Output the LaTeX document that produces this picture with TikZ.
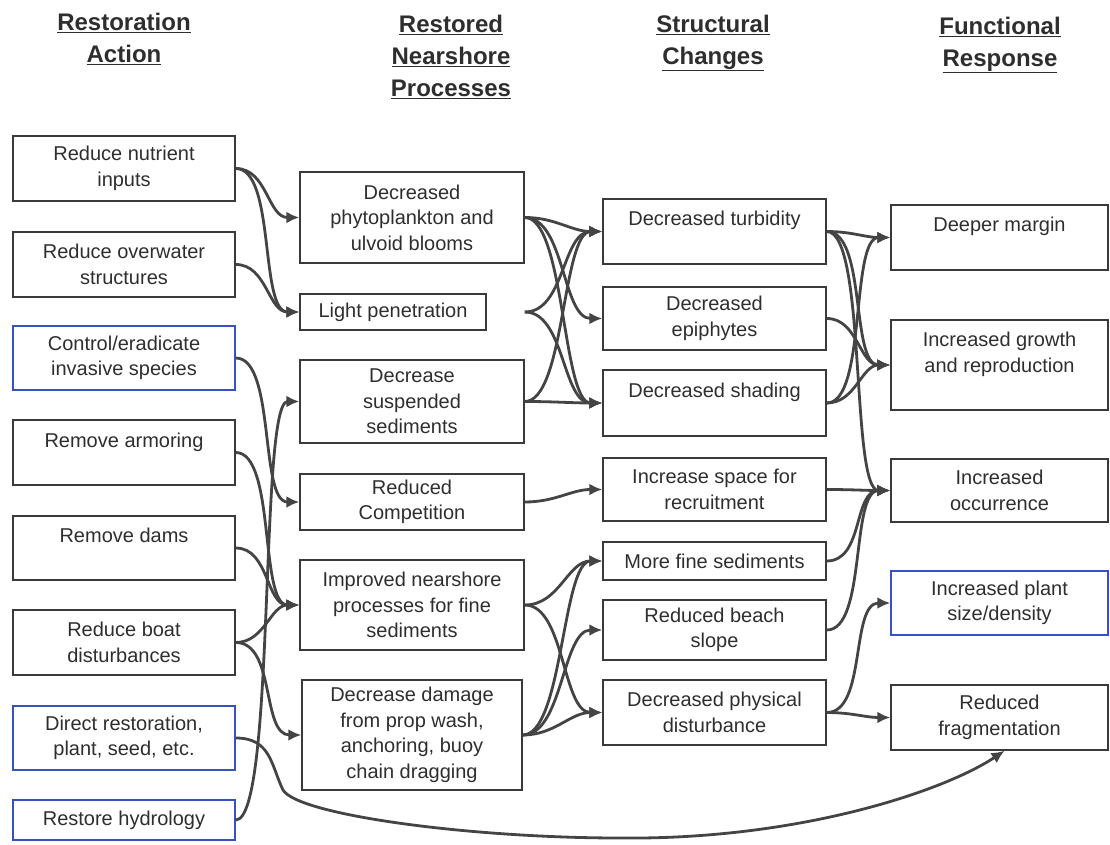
\documentclass[tikz,border=0pt]{standalone}
\usepackage{fontspec}
\setmainfont{Liberation Sans}
\usetikzlibrary{arrows.meta,positioning,calc}

\definecolor{boxgray}{HTML}{3A3A3A}
\definecolor{boxblue}{HTML}{3552C0}
\definecolor{linkgray}{HTML}{444444}
\definecolor{txtgray}{HTML}{2E2E2E}

\tikzset{
  box/.style={draw=boxgray, line width=1.5pt, align=center, inner sep=2pt,
    minimum width=222, text=txtgray, font=\fontsize{20}{25.5}\selectfont},
  bluebox/.style={box, draw=boxblue},
  hdr/.style={align=center, text=txtgray, font=\fontsize{24}{32}\selectfont\bfseries},
  link/.style={draw=linkgray, line width=2.8pt, -{Latex[length=13pt,width=12pt]}},
  flow/.style={out=0, in=180, max distance=40pt}
}

\begin{document}
\begin{tikzpicture}[x=1pt, y=-1pt]
  \useasboundingbox (0,0) rectangle (1110,845);

  % column titles
  \node[hdr] (hAct) at (124,39) {\underline{Restoration}\\\underline{Action}};
  \node[hdr] (hProc) at (451,57) {\underline{Restored}\\\underline{Nearshore}\\\underline{Processes}};
  \node[hdr] (hChg) at (713,43) {\underline{Structural}\\\underline{Changes}};
  \node[hdr] (hResp) at (1000,45) {\underline{Functional}\\\underline{Response}};

  % restoration actions
  \node[box, minimum height=65] (act1) at (124,168.5) {Reduce nutrient\\inputs};
  \node[box, minimum height=65] (act2) at (124,264.5) {Reduce overwater\\structures};
  \node[bluebox, minimum height=64] (act3) at (124,358) {Control/eradicate\\invasive species};
  \node[box, minimum height=65] (act4) at (124,452.5) {Remove armoring\\ \mbox{}};
  \node[box, minimum height=64] (act5) at (124,548) {Remove dams\\ \mbox{}};
  \node[box, minimum height=65] (act6) at (124,642.5) {Reduce boat\\disturbances};
  \node[bluebox, minimum height=64] (act7) at (124,738) {Direct restoration,\\plant, seed, etc.};
  \node[bluebox, minimum height=40] (act8) at (124,820) {Restore hydrology};

  % nearshore processes
  \node[box, minimum width=224, minimum height=91] (proc1) at (412,217.5) {Decreased\\phytoplankton and\\ulvoid blooms};
  \node[box, minimum width=186, minimum height=36] (proc2) at (393,312) {Light penetration};
  \node[box, minimum width=224, minimum height=83] (proc3) at (412,401.5) {Decrease\\suspended\\sediments};
  \node[box, minimum width=224, minimum height=56] (proc4) at (412,502) {Reduced\\Competition};
  \node[box, minimum width=224, minimum height=90] (proc5) at (412,605) {Improved nearshore\\processes for fine\\sediments};
  \node[box, minimum width=220, minimum height=110] (proc6) at (412,735) {Decrease damage\\from prop wash,\\anchoring, buoy\\chain dragging};

  % structural changes
  \node[box, minimum width=223, minimum height=65] (chg1) at (714.5,231.5) {Decreased turbidity\\ \mbox{}};
  \node[box, minimum width=223, minimum height=63] (chg2) at (714.5,318.5) {Decreased\\epiphytes};
  \node[box, minimum width=223, minimum height=66] (chg3) at (714.5,403) {Decreased shading\\ \mbox{}};
  \node[box, minimum width=223, minimum height=63] (chg4) at (714.5,489.5) {Increase space for\\recruitment};
  \node[box, minimum width=223, minimum height=38] (chg5) at (714.5,561) {More fine sediments};
  \node[box, minimum width=223, minimum height=60] (chg6) at (714.5,630) {Reduced beach\\slope};
  \node[box, minimum width=223, minimum height=65] (chg7) at (714.5,712.5) {Decreased physical\\disturbance};

  % functional responses
  \node[box, minimum width=217, minimum height=65] (resp1) at (999.5,237.5) {Deeper margin\\ \mbox{}};
  \node[box, minimum width=217, minimum height=90] (resp2) at (999.5,365) {Increased growth\\and reproduction\\ \mbox{}};
  \node[box, minimum width=217, minimum height=63] (resp3) at (999.5,490.5) {Increased\\occurrence};
  \node[bluebox, minimum width=217, minimum height=64] (resp4) at (999.5,603) {Increased plant\\size/density};
  \node[box, minimum width=217, minimum height=65] (resp5) at (999.5,717.5) {Reduced\\fragmentation};

  % actions -> processes
  \draw[link] (act1.east) to[flow] (proc1.west);
  \draw[link] (act1.east) to[flow] (proc2.west);
  \draw[link] (act2.east) to[flow] (proc2.west);
  \draw[link] (act3.east) to[flow] (proc4.west);
  \draw[link] (act4.east) to[flow] (proc5.west);
  \draw[link] (act5.east) to[flow] (proc5.west);
  \draw[link] (act6.east) to[flow] (proc5.west);
  \draw[link] (act6.east) to[flow] (proc6.west);
  \draw[link] (act8.east) to[flow] (proc3.west);

  % planting goes straight to fragmentation
  \coordinate (bend) at (283,790);
  \coordinate (dip) at (620,838);
  \draw[link] (act7.east) .. controls +(35,0) and +(-12,-25) .. (bend)
    .. controls +(15,25) and +(-150,0) .. (dip)
    .. controls +(180,2) and +(-60,40) .. ([xshift=5]resp5.south);

  % processes -> structural changes
  \draw[link] (proc1.east) to[flow] (chg1.west);
  \draw[link] (proc1.east) to[flow] (chg2.west);
  \draw[link] (proc1.east) to[flow] (chg3.west);
  \draw[link] (proc2.east -| proc1.east) to[flow] (chg1.west);
  \draw[link] (proc2.east -| proc1.east) to[flow] (chg3.west);
  \draw[link] (proc3.east) to[flow] (chg1.west);
  \draw[link] (proc3.east) to[flow] (chg3.west);
  \draw[link] (proc4.east) to[flow] (chg4.west);
  \draw[link] (proc5.east) to[flow] (chg5.west);
  \draw[link] (proc5.east) to[flow] (chg7.west);
  \draw[link] (proc6.east) to[flow] (chg5.west);
  \draw[link] (proc6.east) to[flow] (chg6.west);
  \draw[link] (proc6.east) to[flow] (chg7.west);

  % structural changes -> responses
  \draw[link] (chg1.east) to[flow] (resp1.west);
  \draw[link] (chg1.east) to[flow] (resp2.west);
  \draw[link] (chg1.east) to[flow] (resp3.west);
  \draw[link] (chg2.east) to[flow] (resp2.west);
  \draw[link] (chg3.east) to[flow] (resp1.west);
  \draw[link] (chg3.east) to[flow] (resp2.west);
  \draw[link] (chg4.east) to[flow] (resp3.west);
  \draw[link] (chg5.east) to[flow] (resp3.west);
  \draw[link] (chg6.east) to[flow] (resp3.west);
  \draw[link] (chg7.east) to[flow] (resp4.west);
  \draw[link] (chg7.east) to[flow] (resp5.west);
\end{tikzpicture}
\end{document}
